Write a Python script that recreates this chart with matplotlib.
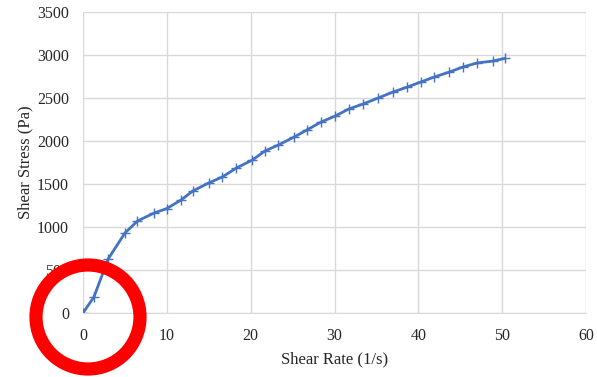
import matplotlib
matplotlib.use("Agg")
import matplotlib.pyplot as plt
from matplotlib.patches import Ellipse

shear_rate = [0, 1.3, 3.0, 5.0, 6.5, 8.5, 10.0, 11.7, 13.1, 15.0, 16.6, 18.3, 20.2, 21.7,
              23.3, 25.2, 26.7, 28.4, 30.1, 31.7, 33.4, 35.2, 37.0, 38.7, 40.3, 41.9,
              43.7, 45.3, 47.0, 48.9, 50.3]
shear_stress = [0, 186, 628, 930, 1070, 1163, 1215, 1314, 1419, 1512, 1581, 1686, 1779, 1884,
                1953, 2047, 2128, 2221, 2291, 2372, 2430, 2500, 2570, 2628, 2686, 2744,
                2802, 2860, 2907, 2930, 2960]
x_ticks = [0, 10, 20, 30, 40, 50, 60]
y_ticks = [0, 500, 1000, 1500, 2000, 2500, 3000, 3500]

plt.rcParams['font.family'] = ['Liberation Serif', 'DejaVu Serif']

fig = plt.figure(figsize=(5.97, 3.77), dpi=100)
ax = fig.add_axes([83/597, 1-313/377, 503/597, 301/377])
ax.plot(shear_rate, shear_stress, color='#4472C4', lw=2, marker='+', ms=7, mew=1.0)
ax.set_xlim(0, 60)
ax.set_ylim(0, 3500)
ax.set_xticks(x_ticks)
ax.set_yticks(y_ticks)
ax.grid(True, color='#d9d9d9', lw=1)
ax.set_axisbelow(True)
for s in ['top', 'right', 'left']:
    ax.spines[s].set_visible(False)
ax.spines['bottom'].set_color('#d9d9d9')
ax.tick_params(length=0, labelsize=11.5, labelcolor='#262626')
ax.tick_params(axis='x', pad=11)
ax.tick_params(axis='y', pad=10)
ax.set_xlabel('Shear Rate (1/s)', fontsize=12, labelpad=5, color='#262626')
ax.set_ylabel('Shear Stress (Pa)', fontsize=12, labelpad=3, color='#262626')

fig.add_artist(Ellipse((88/597, 1-317/377), width=2*52/597, height=2*52/377,
                       transform=fig.transFigure, fill=False, edgecolor='#ff0000',
                       lw=9.5, zorder=10, clip_on=False))
fig.savefig('out.png', dpi=100, facecolor='white')
